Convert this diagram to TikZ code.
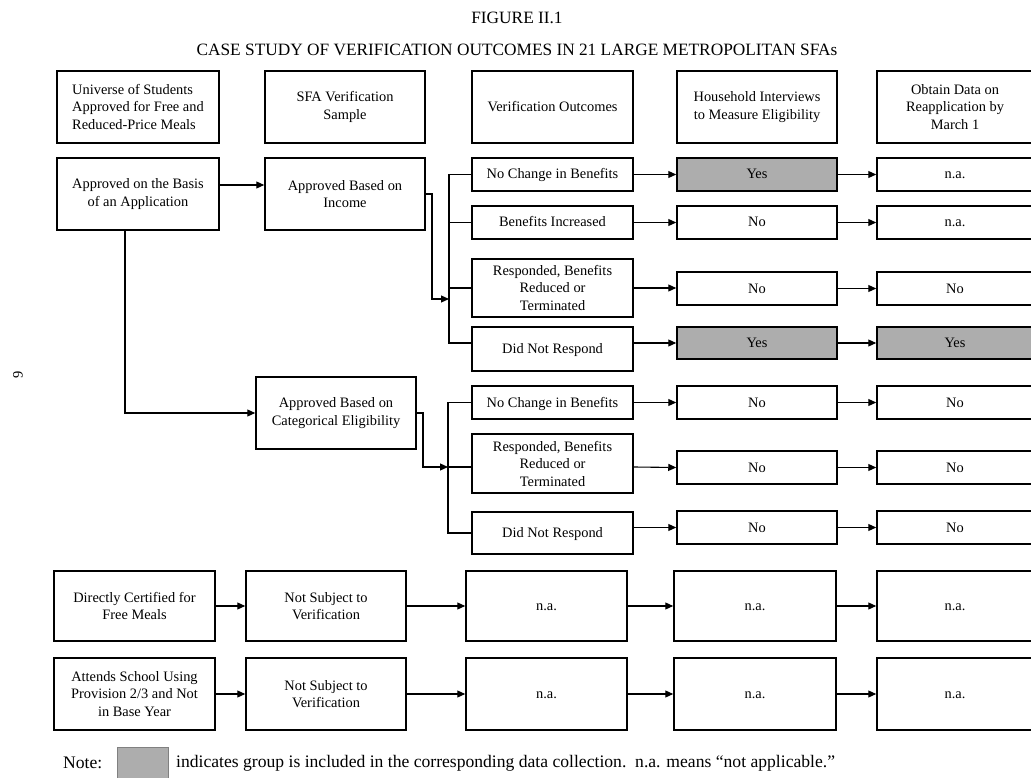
\documentclass[tikz,border=0pt]{standalone}
\usepackage{fontspec}
\setmainfont{Liberation Serif}
\usetikzlibrary{arrows.meta}
\definecolor{shade}{HTML}{ADADAD}
\begin{document}
\begin{tikzpicture}[x=1pt,y=-1pt,
  box/.style={draw=black, line width=1.5pt, align=center, inner sep=0pt,
    font=\fontsize{14.4}{17.5}\selectfont, minimum height=33pt},
  one/.style={text height=11pt, text depth=2pt},
  shaded/.style={box, fill=shade},
  conn/.style={line width=1.1pt},
  arr/.style={conn, -{Triangle[length=8pt,width=7pt]}},
  ttl/.style={font=\fontsize{17.3}{20}\selectfont, inner sep=0pt},
  notefont/.style={font=\fontsize{17.6}{20}\selectfont, inner sep=0pt},
  w1/.style={minimum width=162pt},
  w2/.style={minimum width=160pt},
  w3/.style={minimum width=161pt},
  w4/.style={minimum width=160pt},
  w5/.style={minimum width=156pt},
  tall/.style={minimum height=72pt}]
\useasboundingbox (0,0) rectangle (1031,778);

% titles
\node[ttl] (fig) at (517,18) {FIGURE II.1};
\node[ttl] (sub) at (517,50) {CASE STUDY OF VERIFICATION OUTCOMES IN 21 LARGE METROPOLITAN SFAs};
\node[rotate=90, font=\fontsize{14.4}{17}\selectfont] (pg) at (18,375) {9};

% header row
\node[box, w1, tall, align=left] (h1) at (138,107) {Universe of Students\\Approved for Free and\\Reduced-Price Meals};
\node[box, w2, tall] (h2) at (345,107) {SFA Verification\\Sample};
\node[box, w3, tall, one] (h3) at (552.5,107) {Verification Outcomes};
\node[box, w4, tall] (h4) at (757,107) {Household Interviews\\to Measure Eligibility};
\node[box, w5, tall] (h5) at (955,107) {Obtain Data on\\Reapplication by\\March 1};

% application branch
\node[box, w1, tall] (app) at (138,194) {Approved on the Basis\\of an Application};
\node[box, w2, tall] (inc) at (345,194) {Approved Based on\\Income};
\node[box, w2, tall] (cat) at (336,413) {Approved Based on\\Categorical Eligibility};

% outcomes group A
\node[box, w3, one] (a1) at (552.5,174.5) {No Change in Benefits};
\node[box, w3, one] (a2) at (552.5,222.5) {Benefits Increased};
\node[box, w3, minimum height=58pt] (a3) at (552.5,288) {Responded, Benefits\\Reduced or\\Terminated};
\node[box, w3, one, minimum height=44pt] (a4) at (552.5,349) {Did Not Respond};

\node[shaded, w4, one] (b1) at (757,174.5) {Yes};
\node[box, w4, one] (b2) at (757,222.5) {No};
\node[box, w4, one] (b3) at (757,288.5) {No};
\node[shaded, w4, one, minimum height=32pt] (b4) at (757,343) {Yes};

\node[box, w5, one] (c1) at (955,174.5) {n.a.};
\node[box, w5, one] (c2) at (955,222.5) {n.a.};
\node[box, w5, one] (c3) at (955,288.5) {No};
\node[shaded, w5, one, minimum height=32pt] (c4) at (955,343) {Yes};

% outcomes group B
\node[box, w3, one] (d1) at (552.5,402.5) {No Change in Benefits};
\node[box, w3, minimum height=59pt] (d2) at (552.5,463.5) {Responded, Benefits\\Reduced or\\Terminated};
\node[box, w3, one, minimum height=42pt] (d3) at (552.5,533) {Did Not Respond};

\node[box, w4, one] (e1) at (757,402.5) {No};
\node[box, w4, one] (e2) at (757,467.5) {No};
\node[box, w4, one] (e3) at (757,527.5) {No};

\node[box, w5, one] (f1) at (955,402.5) {No};
\node[box, w5, one] (f2) at (955,467.5) {No};
\node[box, w5, one] (f3) at (955,527.5) {No};

% bottom rows
\node[box, w3, minimum height=70pt] (g1) at (134.5,606) {Directly Certified for\\Free Meals};
\node[box, w2, minimum height=70pt] (g2) at (326,606) {Not Subject to\\Verification};
\node[box, w3, one, minimum height=70pt] (g3) at (546.5,606) {n.a.};
\node[box, w1, one, minimum height=70pt] (g4) at (755,606) {n.a.};
\node[box, w5, one, minimum height=70pt] (g5) at (955,606) {n.a.};

\node[box, w3, tall] (k1) at (134.5,694) {Attends School Using\\Provision 2/3 and Not\\in Base Year};
\node[box, w2, tall] (k2) at (326,694) {Not Subject to\\Verification};
\node[box, w3, tall, one] (k3) at (546.5,694) {n.a.};
\node[box, w1, tall, one] (k4) at (755,694) {n.a.};
\node[box, w5, tall, one] (k5) at (955,694) {n.a.};

% note
\node[notefont, anchor=west] (note) at (63,763) {Note:};
\node[draw=gray, line width=1pt, fill=shade, minimum width=51pt, minimum height=33pt, inner sep=0pt] (key) at (142.5,763.5) {};
\node[notefont, anchor=west] (notetext) at (176,763) {indicates group is included in the corresponding data collection.\ \ n.a. means “not applicable.”};

% helper coordinates
\coordinate (ja) at (432,299);
\coordinate (busA) at (449,299);
\coordinate (bAbot) at (449,343);
\coordinate (jb) at (423,467);
\coordinate (busB) at (448,467);
\coordinate (bBbot) at (448,533);

% connectors
\draw[arr] ([yshift=9pt]app.east) -- ([yshift=9pt]inc.west);
\draw[arr] ([xshift=-13pt]app.south) |- (cat.west);
\draw[arr] (inc.east) -| (ja) -- (busA);
\draw[arr] (cat.east) -| (jb) -- (busB);

\draw[conn] (a1.west) -| (bAbot) -- ([yshift=6pt]a4.west);
\draw[conn] (a2.west) -- (a2.west -| bAbot);
\draw[conn] (a3.west) -- (a3.west -| bAbot);

\draw[conn] (d1.west) -| (bBbot) -- (d3.west);
\draw[conn] ([yshift=-3.5pt]d2.west) -- (busB);

\draw[arr] (a1) -- (b1);
\draw[arr] (a2) -- (b2);
\draw[arr] (a3.east) -- (a3.east -| b3.west);
\draw[arr] ([yshift=6pt]a4.east) -- (b4.west);
\draw[arr] (b1) -- (c1);
\draw[arr] (b2) -- (c2);
\draw[arr] (b3) -- (c3);
\draw[arr] (b4) -- (c4);

\draw[arr] (d1) -- (e1);
\draw[arr] ([yshift=-3.5pt]d2.east) -- (e2.west);
\draw[arr] ([yshift=5.5pt]d3.east) -- (e3.west);
\draw[arr] (e1) -- (f1);
\draw[arr] (e2) -- (f2);
\draw[arr] (e3) -- (f3);

\draw[arr] (g1) -- (g2);
\draw[arr] (g2) -- (g3);
\draw[arr] (g3) -- (g4);
\draw[arr] (g4) -- (g5);
\draw[arr] (k1) -- (k2);
\draw[arr] (k2) -- (k3);
\draw[arr] (k3) -- (k4);
\draw[arr] (k4) -- (k5);
\end{tikzpicture}
\end{document}
